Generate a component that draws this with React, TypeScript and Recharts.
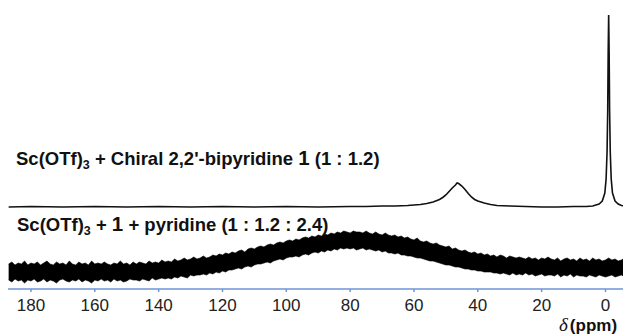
import React from 'react'
import { ComposedChart, Line, Area, XAxis, YAxis } from 'recharts'

// top trace: Sc(OTf)3 + chiral bipyridine (offset intensity, arbitrary units)
const topPpm = [
    187, 180, 170, 160, 150, 140, 130, 120, 110, 100, 90, 80, 75, 70, 66, 62, 60, 58, 56, 54, 52, 51, 50, 49,
    48, 47, 46.5, 46, 45, 44, 43, 42, 41, 40, 38, 36, 34, 30, 25, 20, 15, 10, 6, 4, 3, 2, 1, 0.2, -0.2, -0.5,
    -0.7, -0.85, -1, -1.15, -1.3, -1.5, -1.8, -2.2, -3, -4, -5, -6, -8,
]
const topVal = [
    82, 82.5, 82, 82.5, 82, 82.5, 82, 82.5, 82, 82.5, 82, 82.5, 82.5, 83, 83, 83.5, 84, 84.5, 85.5, 87, 89.5, 91.5, 94, 97.5,
    101, 104, 106, 105.5, 103, 99.5, 95.5, 92, 89.5, 88, 86, 84.5, 83.5, 83, 82.5, 82, 82, 82.5, 82.5, 83, 84, 85, 88, 96, 110, 137,
    178, 236, 274, 236, 178, 137, 110, 96, 88, 85, 83.5, 83, 82.5,
]

// bottom trace: Sc(OTf)3 + 1 + pyridine, noisy band read every 1 ppm from 187 down to -8
const bottomStart = 187
const bottomHi = [
    25, 27, 24, 26, 25, 28, 24, 26, 25, 27,
    24, 26, 28, 25, 24, 27, 25, 26, 24, 28,
    25, 24, 27, 25, 26, 24, 28, 25, 26, 25,
    27, 25, 24, 26, 25, 28, 25, 26, 24, 27,
    25, 27, 26, 25, 28, 26, 27, 26, 29, 27,
    28, 27, 30, 28, 29, 31, 29, 30, 32, 30,
    31, 33, 31, 32, 34, 33, 35, 34, 36, 35,
    37, 36, 38, 39, 37, 40, 41, 40, 42, 43,
    42, 44, 45, 44, 46, 47, 46, 48, 49, 48,
    50, 49, 51, 52, 51, 53, 52, 54, 53, 55,
    54, 56, 55, 57, 56, 58, 57, 56, 58, 57,
    57, 56, 58, 56, 55, 57, 55, 54, 56, 54,
    53, 54, 52, 53, 51, 52, 50, 49, 51, 48,
    47, 48, 46, 45, 46, 44, 43, 42, 43, 40,
    41, 39, 38, 39, 37, 36, 37, 35, 36, 34,
    35, 33, 34, 32, 34, 33, 31, 33, 32, 31,
    32, 31, 30, 32, 30, 31, 29, 31, 30, 32,
    30, 29, 31, 28, 30, 31, 29, 30, 28, 31,
    29, 30, 28, 31, 29, 30, 28, 29, 31, 29,
    30, 28, 29, 31, 29, 30,
]
const bottomLo = [
    9, 7, 10, 8, 9, 6, 9, 8, 10, 7,
    8, 10, 7, 9, 8, 6, 9, 10, 8, 7,
    9, 8, 10, 7, 9, 8, 6, 9, 8, 10,
    8, 9, 7, 10, 8, 9, 7, 8, 10, 9,
    9, 8, 10, 9, 8, 11, 9, 10, 11, 10,
    11, 10, 12, 11, 13, 12, 11, 14, 13, 14,
    14, 15, 14, 16, 15, 17, 16, 18, 17, 19,
    19, 20, 21, 20, 22, 23, 22, 24, 25, 25,
    26, 27, 26, 28, 29, 30, 29, 31, 32, 32,
    33, 32, 34, 35, 34, 36, 37, 36, 38, 37,
    39, 38, 40, 39, 41, 40, 41, 40, 41, 39,
    40, 41, 39, 40, 39, 38, 39, 37, 38, 36,
    36, 35, 36, 34, 34, 33, 33, 32, 31, 31,
    30, 29, 28, 28, 27, 26, 25, 24, 24, 23,
    22, 22, 21, 20, 20, 19, 19, 18, 18, 17,
    17, 17, 16, 16, 15, 16, 15, 14, 16, 14,
    15, 14, 16, 14, 15, 13, 14, 15, 13, 14,
    14, 13, 15, 12, 14, 13, 15, 12, 14, 13,
    13, 12, 14, 13, 12, 14, 13, 12, 13, 14,
    12, 13, 14, 12, 13, 12,
]

const majorTicks = [180, 160, 140, 120, 100, 80, 60, 40, 20, 0]

const topData = topPpm.map((ppm, i) => ({ ppm, y: topVal[i] }))
const bottomData = bottomHi.map((hi, i) => ({ ppm: bottomStart - i, band: [bottomLo[i], hi] }))
const minorTicks = Array.from({ length: 78 }, (_, i) => 185 - i * 2.5)

const sans = '"Liberation Sans", Arial, sans-serif'
const axisBlue = '#6f95d6'

const labelStyle: React.CSSProperties = {
    position: 'absolute',
    fontFamily: sans,
    fontWeight: 'bold',
    fontSize: 18.5,
    lineHeight: 1,
    color: '#111',
    whiteSpace: 'nowrap',
}
const subStyle: React.CSSProperties = { fontSize: 12.5, position: 'relative', top: 4 }
const bigOne: React.CSSProperties = { fontSize: 20.5 }

export default function App() {
    return (
        <div style={{ position: 'relative', width: 623, height: 326 }}>
            <ComposedChart width={623} height={326} margin={{ top: 2, right: 0, left: 0, bottom: 15 }}>
                <XAxis
                    xAxisId="minor"
                    type="number"
                    dataKey="ppm"
                    domain={[-8, 187.2]}
                    reversed
                    allowDataOverflow
                    ticks={minorTicks}
                    tick={false}
                    tickSize={2}
                    tickLine={{ stroke: axisBlue, strokeWidth: 1 }}
                    axisLine={false}
                    height={0}
                />
                <XAxis
                    type="number"
                    dataKey="ppm"
                    domain={[-8, 187.2]}
                    reversed
                    allowDataOverflow
                    ticks={majorTicks}
                    interval={0}
                    tickSize={3}
                    tickMargin={7}
                    tickLine={{ stroke: axisBlue, strokeWidth: 1.5 }}
                    axisLine={{ stroke: axisBlue, strokeWidth: 1.5 }}
                    tick={{ fill: '#222', fontSize: 17, fontFamily: sans }}
                    height={30}
                />
                <YAxis hide type="number" domain={[0, 279]} allowDataOverflow />
                <Area
                    data={bottomData}
                    dataKey="band"
                    type="linear"
                    stroke="#000"
                    strokeWidth={0.6}
                    fill="#000"
                    fillOpacity={1}
                    dot={false}
                    activeDot={false}
                    isAnimationActive={false}
                />
                <Line
                    data={topData}
                    dataKey="y"
                    type="linear"
                    stroke="#111"
                    strokeWidth={1.6}
                    dot={false}
                    activeDot={false}
                    isAnimationActive={false}
                />
            </ComposedChart>
            <div style={{ ...labelStyle, left: 8, top: 140 }}>
                Sc(OTf)<span style={subStyle}>3</span> + Chiral 2,2'-bipyridine <span style={bigOne}>1</span> (1 : 1.2)
            </div>
            <div style={{ ...labelStyle, left: 9, top: 206 }}>
                Sc(OTf)<span style={subStyle}>3</span> + <span style={bigOne}>1</span> + pyridine (1 : 1.2 : 2.4)
            </div>
            <div style={{ ...labelStyle, left: 551, top: 307, fontSize: 17 }}>
                <span style={{ fontFamily: '"Liberation Serif", serif', fontStyle: 'italic', fontWeight: 'normal', fontSize: 19 }}>δ</span>
                <span style={{ marginLeft: 2 }}>(ppm)</span>
            </div>
        </div>
    )
}
